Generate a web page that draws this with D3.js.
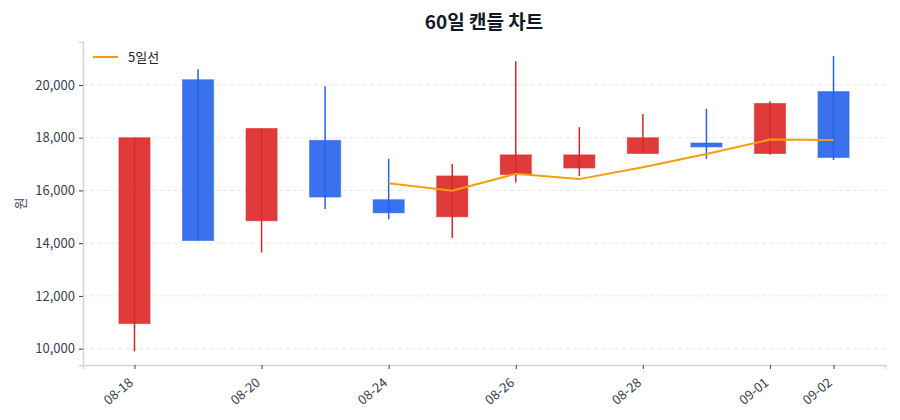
<!DOCTYPE html>
<html>
<head>
<meta charset="utf-8">
<script src="https://cdn.jsdelivr.net/npm/d3@7/dist/d3.min.js"></script>
<style>
	body { margin: 0; background: #fff; }
	text { font-family: "Noto Sans CJK KR", "Noto Sans", sans-serif; }
</style>
</head>
<body>
<div id="chart"></div>
<script>
	//
	// Data
	//
	let dates = ['08-18', '08-19', '08-20', '08-21', '08-24', '08-25', '08-26', '08-27', '08-28', '08-31', '09-01', '09-02'];
	let opens = [10950, 20200, 14850, 17900, 15650, 15000, 16600, 16850, 17400, 17800, 17400, 19750];
	let highs = [18000, 20600, 18350, 19950, 17200, 17000, 20900, 18400, 18900, 19100, 19380, 21100];
	let lows = [9900, 14100, 13650, 15300, 14900, 14200, 16300, 16550, 17400, 17200, 17350, 17150];
	let closes = [18000, 14100, 18350, 15750, 15150, 16550, 17350, 17350, 18000, 17650, 19300, 17250];
	let ma5 = [null, null, null, null, 16270, 15990, 16630, 16430, 16880, 17380, 17930, 17910];
	let xTickLabels = ['08-18', '08-20', '08-24', '08-26', '08-28', '09-01', '09-02'];
	let yTicks = [10000, 12000, 14000, 16000, 18000, 20000];

	let UP_COLOR = '#dc2626';
	let DOWN_COLOR = '#2563eb';
	let MA_COLOR = '#f59e0b';

	var svg_width = 900,
	svg_height = 420;

	var margin = { top: 42, right: 15, bottom: 55, left: 83 };

	var svg = d3.select("#chart").append("svg")
		.attr("width", svg_width)
		.attr("height", svg_height);

	var x = d3.scalePoint()
		.domain(dates)
		.range([margin.left, svg_width - margin.right])
		.padding(0.81);

	var y = d3.scaleLinear()
		.domain([9380, 21630])
		.range([svg_height - margin.bottom, margin.top]);

	var bodyWidth = x.step() * 0.49;

	// Grid
	svg.append("g")
		.selectAll("line")
		.data(yTicks)
		.enter()
		.append("line")
		.attr("x1", margin.left)
		.attr("x2", svg_width - margin.right)
		.attr("y1", d => y(d))
		.attr("y2", d => y(d))
		.style("stroke", "#e5e7eb")
		.style("stroke-width", 1)
		.style("stroke-dasharray", "4,3");

	// Axes
	var yAxis = svg.append("g")
		.attr("transform", "translate(" + margin.left + ",0)")
		.call(d3.axisLeft(y).tickValues(yTicks).tickFormat(d3.format(",")).tickSize(4).tickPadding(4));

	var xAxis = svg.append("g")
		.attr("transform", "translate(0," + (svg_height - margin.bottom) + ")")
		.call(d3.axisBottom(x).tickValues(xTickLabels).tickSize(4).tickPadding(3));

	[xAxis, yAxis].forEach(function(a) {
		a.select(".domain").style("stroke", "#d1d5db").style("stroke-width", 1.5);
		a.selectAll(".tick line").style("stroke", "#374151");
		a.selectAll(".tick text").style("fill", "#374151").style("font-size", "13px");
	});

	xAxis.selectAll(".tick text")
		.attr("text-anchor", "end")
		.attr("x", 0)
		.attr("y", 0)
		.attr("dy", 0)
		.attr("transform", "translate(-1,19) rotate(-40)");

	// Candles
	var candles = svg.append("g")
		.selectAll("g")
		.data(dates)
		.enter()
		.append("g");

	candles.append("line")
		.attr("x1", d => x(d))
		.attr("x2", d => x(d))
		.attr("y1", (d, i) => y(highs[i]))
		.attr("y2", (d, i) => y(lows[i]))
		.style("stroke", (d, i) => closes[i] >= opens[i] ? UP_COLOR : DOWN_COLOR)
		.style("stroke-width", 1.5);

	candles.append("rect")
		.attr("x", d => x(d) - bodyWidth / 2)
		.attr("width", bodyWidth)
		.attr("y", (d, i) => y(Math.max(opens[i], closes[i])))
		.attr("height", (d, i) => Math.max(1, Math.abs(y(opens[i]) - y(closes[i]))))
		.style("fill", (d, i) => closes[i] >= opens[i] ? UP_COLOR : DOWN_COLOR)
		.style("fill-opacity", 0.9)
		.style("stroke", (d, i) => closes[i] >= opens[i] ? UP_COLOR : DOWN_COLOR)
		.style("stroke-opacity", 0.5)
		.style("stroke-width", 1);

	// 5-day line
	var line = d3.line()
		.defined(d => d[1] != null)
		.x(d => x(d[0]))
		.y(d => y(d[1]));

	svg.append("path")
		.datum(dates.map((d, i) => [d, ma5[i]]))
		.attr("d", line)
		.style("fill", "none")
		.style("stroke", MA_COLOR)
		.style("stroke-width", 2);

	// Legend
	svg.append("line")
		.attr("x1", 93).attr("x2", 118)
		.attr("y1", 57).attr("y2", 57)
		.style("stroke", MA_COLOR)
		.style("stroke-width", 2);

	svg.append("text")
		.attr("x", 128).attr("y", 61.5)
		.style("font-size", "13px")
		.style("fill", "#222")
		.text("5일선");

	// Title
	svg.append("text")
		.attr("x", (margin.left + svg_width - margin.right) / 2)
		.attr("y", 29)
		.attr("text-anchor", "middle")
		.style("font-size", "19px")
		.style("font-weight", "bold")
		.style("fill", "#111827")
		.text("60일 캔들 차트");

	// Y label
	svg.append("text")
		.attr("transform", "translate(25," + y(15500) + ") rotate(-90)")
		.attr("text-anchor", "middle")
		.style("font-size", "13px")
		.style("fill", "#374151")
		.text("원");
</script>
</body>
</html>
